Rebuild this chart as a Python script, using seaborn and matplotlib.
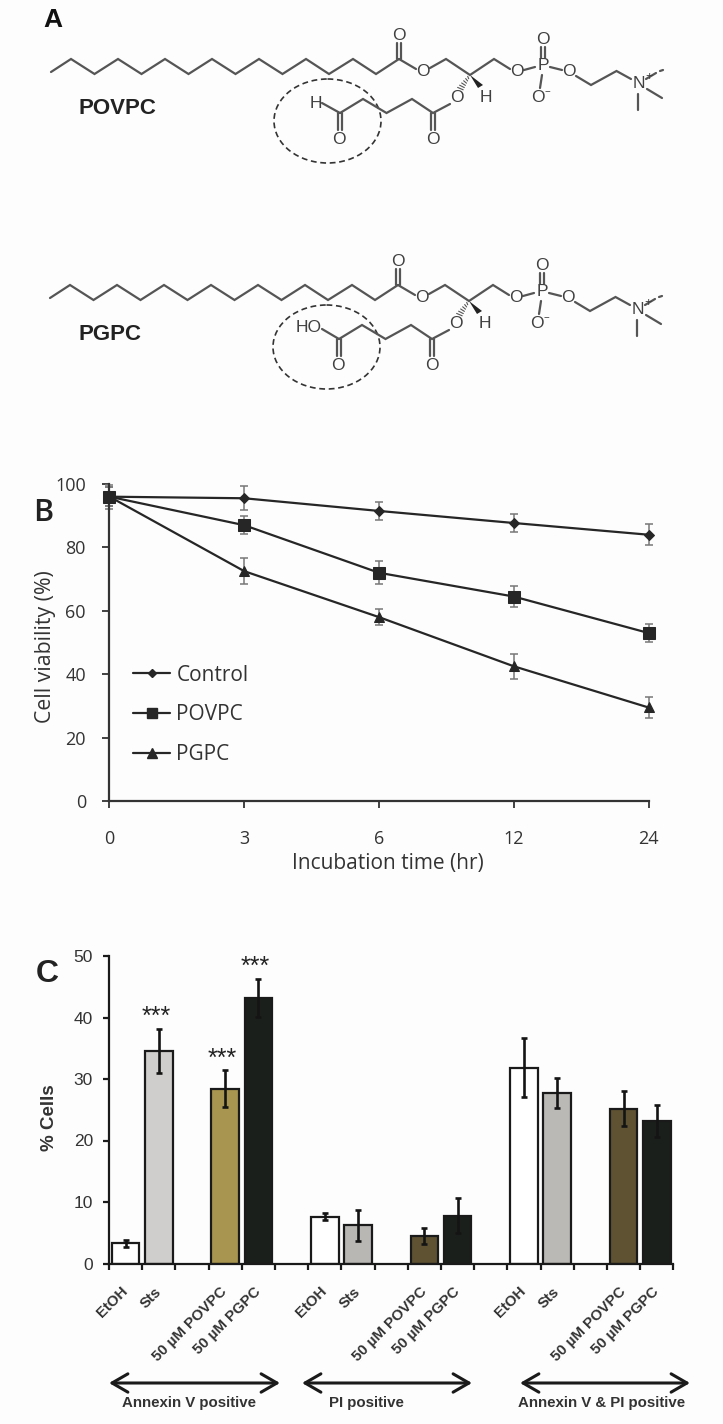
import numpy as np
import pandas as pd
import matplotlib
matplotlib.use("Agg")
import matplotlib.pyplot as plt
from matplotlib.patches import Ellipse, Polygon
from matplotlib.lines import Line2D
from matplotlib.transforms import ScaledTranslation
import seaborn as sns

# ---------- data, panel B ----------
time_labels = ["0", "3", "6", "12", "24"]
control = [96, 95.5, 91.5, 87.7, 84]
control_err = [3.8, 3.8, 2.8, 2.8, 3.4]
povpc = [96, 87, 72, 64.5, 53]
povpc_err = [3, 2.8, 3.6, 3.4, 2.8]
pgpc = [96, 72.5, 58, 42.5, 29.5]
pgpc_err = [3, 4, 2.5, 3.9, 3.4]

# ---------- data, panel C ----------
treatments = ["EtOH", "Sts", "50 µM POVPC", "50 µM PGPC"]
groups = ["Annexin V positive", "PI positive", "Annexin V & PI positive"]
annexin = [3.3, 34.6, 28.4, 43.2]
annexin_err = [0.6, 3.6, 3.0, 3.1]
pi_pos = [7.6, 6.2, 4.5, 7.8]
pi_err = [0.6, 2.5, 1.3, 2.8]
both = [31.8, 27.7, 25.2, 23.1]
both_err = [4.8, 2.4, 2.9, 2.6]
stars = [None, "***", "***", "***"]

W, H = 723, 1424
sns.set_theme(style="white")
plt.rcParams["font.family"] = ["Liberation Sans", "DejaVu Sans"]
fig = plt.figure(figsize=(W / 100, H / 100), dpi=100, facecolor="#fdfdfd")


def axes_px(l, t, r, b):
    return fig.add_axes([l / W, 1 - b / H, (r - l) / W, (b - t) / H], facecolor="none")


# ---------- panel A: structural drawings on a pixel canvas ----------
cv = axes_px(0, 0, W, H)
cv.set_xlim(0, W)
cv.set_ylim(H, 0)
cv.axis("off")
BOND = "#555555"
ATOM = "#404040"


def bonds(pts, dx, dy, lw=1.6, **kw):
    xs, ys = zip(*pts)
    cv.plot(np.array(xs) + dx, np.array(ys) + dy, color=BOND, lw=lw,
            solid_joinstyle="miter", **kw)


def atom(x, y, s, dx, dy, size=12.5):
    cv.text(x + dx, y + dy, s, ha="center", va="center", color=ATOM, fontsize=size)


def molecule(dx, dy, name, head):
    xs = [51, 71, 94.5, 118, 141.5, 165, 188.5, 212, 235.5, 259, 282.5, 306, 329,
          353, 376, 399]
    ys = [72] + [59 if i % 2 == 0 else 74 for i in range(14)] + [59]
    bonds(list(zip(xs, ys)), dx, dy)
    bonds([(399, 59), (416, 69)], dx, dy)
    bonds([(397.4, 59), (397.4, 43)], dx, dy)
    bonds([(400.6, 59), (400.6, 43)], dx, dy)
    atom(399, 35, "O", dx, dy)
    atom(423, 72, "O", dx, dy)
    bonds([(430, 68), (446, 59), (470, 75), (494, 59), (510, 69)], dx, dy)
    atom(517, 72, "O", dx, dy)
    bonds([(524, 70), (535, 67)], dx, dy)
    atom(543, 66, "P", dx, dy)
    bonds([(550, 67), (562, 70)], dx, dy)
    bonds([(541.3, 58), (541.3, 47)], dx, dy)
    bonds([(544.7, 58), (544.7, 47)], dx, dy)
    atom(543, 39, "O", dx, dy)
    bonds([(542, 75), (540, 88)], dx, dy)
    atom(538, 97, "O", dx, dy)
    atom(547.5, 92, "−", dx, dy, 7)
    atom(569, 72, "O", dx, dy)
    bonds([(576, 76), (591, 85), (616.5, 71), (631, 79)], dx, dy)
    atom(639, 84, "N", dx, dy)
    atom(649, 77, "+", dx, dy, 9)
    bonds([(647, 89), (662, 98)], dx, dy)
    bonds([(638, 94), (638, 110)], dx, dy)
    bonds([(646, 79), (656, 73)], dx, dy)
    bonds([(660, 71), (663, 70)], dx, dy)
    # stereo centre
    cv.add_patch(Polygon([(470 + dx, 75 + dy), (478 + dx, 88 + dy), (483 + dx, 85 + dy)],
                         closed=True, color="#222222", lw=0))
    atom(486, 98, "H", dx, dy)
    for f in np.linspace(0.15, 0.8, 6):
        cx, cy = 470 + (458 - 470) * f, 75 + (92 - 75) * f
        bonds([(cx - 3.5 * f, cy - 1.2), (cx + 3.5 * f, cy + 1.2)], dx, dy, lw=0.8)
    atom(457, 98, "O", dx, dy)
    # sn-2 chain
    bonds([(450, 104), (433, 113), (412, 99), (386.5, 113), (363, 99), (340, 113)], dx, dy)
    bonds([(431.4, 113), (431.4, 130)], dx, dy)
    bonds([(434.6, 113), (434.6, 130)], dx, dy)
    atom(433, 139, "O", dx, dy)
    bonds([(338.4, 113), (338.4, 130)], dx, dy)
    bonds([(341.6, 113), (341.6, 130)], dx, dy)
    atom(339, 139, "O", dx, dy)
    if head == "H":
        bonds([(340, 113), (322, 103)], dx, dy)
        atom(316, 103, "H", dx, dy)
    else:
        bonds([(340, 113), (323, 103)], dx, dy)
        atom(310, 102, "HO", dx, dy)
    cv.add_patch(Ellipse((327.5 + dx, 121 + dy), 107, 84, fill=False, ec="#333333",
                         lw=1.2, ls=(0, (3.5, 2.2))))
    cv.text(79, 108 + dy, name, fontsize=16, fontweight="bold", color="#222222",
            va="center", ha="left")


molecule(0, 0, "POVPC", "H")
molecule(-1, 226, "PGPC", "HO")

cv.text(53, 20, "A", fontsize=19, fontweight="bold", color="#111111", ha="center", va="center")
cv.text(43, 513, "B", fontsize=22, color="#222222", ha="center", va="center",
        family=["Open Sans", "DejaVu Sans"], fontweight="semibold")
cv.text(47, 974, "C", fontsize=23, fontweight="bold", color="#222222", ha="center", va="center")

# ---------- panel B ----------
SOFT = "#333333"
BF = ["Open Sans", "DejaVu Sans"]
axb = axes_px(109.5, 484, 648.5, 801)
pos = np.arange(len(time_labels))
series = [("Control", control, control_err, "D", 5),
          ("POVPC", povpc, povpc_err, "s", 8),
          ("PGPC", pgpc, pgpc_err, "^", 7.5)]
long_b = pd.DataFrame([
    {"t": p, "v": v, "s": name}
    for name, vals, _, _, _ in series for p, v in zip(pos, vals)
])
for name, vals, errs, mk, ms in series:
    axb.errorbar(pos, vals, yerr=errs, fmt="none", ecolor="#777777", elinewidth=1.1,
                 capsize=3.2, capthick=1.1, clip_on=False, zorder=2)
sns.lineplot(data=long_b, x="t", y="v", hue="s", style="s",
             palette={s[0]: "#262626" for s in series},
             markers={s[0]: s[3] for s in series}, dashes=False,
             lw=1.6, ax=axb, legend=False, clip_on=False, zorder=3,
             markeredgecolor="#262626", markersize=7)
for line, s in zip(axb.lines[-3:], series):
    line.set_markersize(s[4])
axb.set_xlim(0, 4)
axb.set_ylim(0, 100)
axb.set_xticks(pos, time_labels)
axb.set_yticks(range(0, 101, 20))
axb.tick_params(axis="both", length=5, width=1.3, color="#333333", labelcolor=SOFT,
                labelsize=13, bottom=True, left=True)
axb.tick_params(axis="x", pad=16)
axb.tick_params(axis="y", pad=12)
for lab in axb.get_xticklabels() + axb.get_yticklabels():
    lab.set_family(BF)
axb.set_xlabel("Incubation time (hr)", fontsize=15, color=SOFT, family=BF)
axb.set_ylabel("Cell viability (%)", fontsize=15.3, color=SOFT, family=BF)
axb.xaxis.set_label_coords(0.516, -0.164)
axb.yaxis.set_label_coords(-0.1, 0.487)
sns.despine(ax=axb)
for sp in ("left", "bottom"):
    axb.spines[sp].set_linewidth(1.6)
    axb.spines[sp].set_color("#333333")
handles = [Line2D([], [], color="#262626", lw=1.6, marker=s[3], ms=s[4] - 1, label=s[0])
           for s in series]
leg = axb.legend(handles=handles, frameon=False, loc="upper left",
                 bbox_to_anchor=(0.044, 0.43), labelspacing=0.9, handlelength=1.78,
                 handletextpad=0.29, prop={"family": BF, "size": 15}, labelcolor=SOFT,
                 borderaxespad=0, borderpad=0)

# ---------- panel C ----------
axc = axes_px(109, 956, 673.4, 1263.5)
group_start = [0, 6, 12]
offsets = [0, 1, 3, 4]
values = [annexin, pi_pos, both]
errors = [annexin_err, pi_err, both_err]
colors = [["#ffffff", "#cfcecc", "#a8954f", "#1b1f1b"],
          ["#ffffff", "#b9b7b4", "#5f5233", "#1b1f1b"],
          ["#ffffff", "#bbb9b6", "#5f5233", "#1b1f1b"]]
rows = []
for g, st in enumerate(group_start):
    for i, off in enumerate(offsets):
        rows.append({"x": st + off, "v": values[g][i], "e": errors[g][i],
                     "c": colors[g][i], "lab": treatments[i], "id": f"{g}-{i}"})
dfc = pd.DataFrame(rows)
sns.barplot(data=dfc, x="x", y="v", hue="id", palette=dict(zip(dfc["id"], dfc["c"])),
            native_scale=True, dodge=False, width=0.83, saturation=1, legend=False,
            edgecolor="#1a1a1a", linewidth=1.6, ax=axc, zorder=2)
axc.errorbar(dfc["x"], dfc["v"], yerr=dfc["e"], fmt="none", ecolor="#141414",
             elinewidth=1.9, capsize=2.4, capthick=1.9, zorder=4)
axc.set_xlim(-0.5, 16.5)
axc.set_ylim(0, 50)
axc.set_yticks(range(0, 51, 10))
axc.set_xticks(np.arange(-0.5, 17, 1), [])
axc.set_xticks(dfc["x"], dfc["lab"], minor=True, rotation=45, ha="right",
               rotation_mode="anchor")
axc.tick_params(axis="x", which="major", length=4, width=1.6, color="#1a1a1a", bottom=True)
axc.tick_params(axis="x", which="minor", length=0, pad=15, labelsize=10.8, labelcolor="#333333",
                bottom=True)
shift = ScaledTranslation(-5 / 100, 0, fig.dpi_scale_trans)
for lab in axc.get_xticklabels(minor=True):
    lab.set_fontweight("bold")
    lab.set_transform(lab.get_transform() + shift)
axc.tick_params(axis="y", length=4.5, width=1.6, color="#1a1a1a", labelsize=12.5,
                labelcolor="#333333", pad=7, left=True)
axc.set_xlabel("")
axc.set_ylabel("% Cells", fontsize=13.5, fontweight="bold", color="#333333")
axc.yaxis.set_label_coords(-0.0905, 0.476)
sns.despine(ax=axc)
for sp in ("left", "bottom"):
    axc.spines[sp].set_linewidth(1.6)
    axc.spines[sp].set_color("#1a1a1a")

for off, s, val, err in zip(offsets, stars, annexin, annexin_err):
    if s:
        axc.annotate(s, (group_start[0] + off, val + err), xytext=(-2, 3.5),
                     textcoords="offset points", ha="center", va="baseline",
                     fontsize=18, color="#222222")

# group arrows and labels
arrow_spans = [(109, 280), (302, 472), (520, 690)]
label_x = [189, 366, 602]
for (a, b), lx, g in zip(arrow_spans, label_x, groups):
    cv.annotate("", xy=(a, 1383), xytext=(b, 1383),
                arrowprops=dict(arrowstyle="<->,head_length=0.95,head_width=0.55",
                                color="#1a1a1a", lw=2.2, shrinkA=0, shrinkB=0))
    cv.text(lx, 1403, g, ha="center", va="center", fontsize=10.85, fontweight="bold",
            color="#333333")

fig.savefig("out.png", dpi=100, facecolor=fig.get_facecolor())
